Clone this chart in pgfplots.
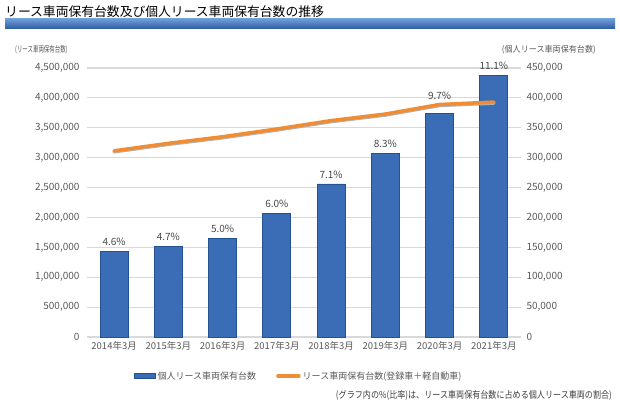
\documentclass[border=0pt]{standalone}
\usepackage{pgfplots}
\pgfplotsset{compat=1.18}
\usepackage{fontspec}
\setmainfont{Noto Sans CJK JP}
\newfontfamily\jpcondA[FakeStretch=0.64]{Noto Sans CJK JP}
\newfontfamily\jpcondB[FakeStretch=0.95]{Noto Sans CJK JP}
\newfontfamily\jpcondC[FakeStretch=0.85]{Noto Sans CJK JP}
\definecolor{txt}{HTML}{595959}
\definecolor{gridc}{HTML}{D9D9D9}
\definecolor{barmid}{HTML}{3A6DB5}
\definecolor{baredge}{HTML}{24518F}
\definecolor{lineor}{HTML}{F08C34}
\definecolor{titlebarTop}{HTML}{6E9BD8}
\definecolor{titlebarBot}{HTML}{2C5BA3}
\begin{document}
\begin{tikzpicture}[x=1pt,y=1pt]
\path (0,0) rectangle (620,405);
% title
\node[anchor=west, inner sep=0pt, font=\fontsize{12.8}{14}\selectfont, text=black] at (5,393) {リース車両保有台数及び個人リース車両保有台数の推移};
\shade[top color=titlebarTop, bottom color=titlebarBot] (5,376) rectangle (615,386);
% axis captions
\node[anchor=west, inner sep=0pt, font=\jpcondA\fontsize{8.5}{9}\selectfont, text=txt] at (15,355) {(リース車両保有台数)};
\node[anchor=east, inner sep=0pt, font=\jpcondB\fontsize{8.5}{9}\selectfont, text=txt] at (596,355) {(個人リース車両保有台数)};
% bars (right axis)
\begin{axis}[
  at={(87pt,68pt)}, anchor=south west, scale only axis,
  width=434pt, height=269pt,
  xmin=-0.5, xmax=7.5, ymin=0, ymax=450000,
  axis y line*=right, axis x line*=bottom,
  axis line style={draw=none},
  x axis line style={draw=gridc, line width=1.2pt},
  major tick length=0pt,
  ytick={0,50000,...,450000},
  ymajorgrids, grid style={draw=gridc, line width=1.2pt},
  scaled ticks=false,
  /pgf/number format/.cd, fixed, 1000 sep={,}, assume math mode=true,
  /pgfplots/.cd,
  yticklabel style={font=\fontsize{10}{12}\selectfont, text=txt, xshift=2pt},
  xtick={0,...,7},
  xticklabels={2014年3月,2015年3月,2016年3月,2017年3月,2018年3月,2019年3月,2020年3月,2021年3月},
  xticklabel style={font=\fontsize{9.5}{11}\selectfont, text=txt, yshift=-1pt},
  ybar, bar width=28pt,
  nodes near coords={\ifnum\coordindex=6 \raisebox{8pt}{\pgfplotspointmeta}\else\pgfplotspointmeta\fi},
  point meta=explicit symbolic,
  nodes near coords style={font=\fontsize{10}{12}\selectfont, text=txt!80!black, anchor=south, yshift=2pt},
]
\addplot[draw=baredge, line width=0.8pt, fill=barmid]
coordinates {(0,143000)[4.6\%] (1,152000)[4.7\%] (2,165000)[5.0\%] (3,207000)[6.0\%] (4,256000)[7.1\%] (5,307000)[8.3\%] (6,374000)[9.7\%] (7,437000)[11.1\%]};
\end{axis}
% line (left axis)
\begin{axis}[
  at={(87pt,68pt)}, anchor=south west, scale only axis,
  width=434pt, height=269pt, clip=false,
  xmin=-0.5, xmax=7.5, ymin=0, ymax=4500000,
  axis y line*=left, axis x line=none,
  axis line style={draw=none},
  major tick length=0pt,
  ytick={0,500000,...,4500000},
  scaled ticks=false,
  /pgf/number format/.cd, fixed, 1000 sep={,}, assume math mode=true,
  /pgfplots/.cd,
  yticklabel style={font=\fontsize{10}{12}\selectfont, text=txt, xshift=-4pt},
  xtick=\empty,
  legend columns=2,
  legend style={draw=none, fill=none, at={(0.488,-0.145)}, anchor=center,
    font=\fontsize{9}{11}\selectfont, text=txt,
    /tikz/every even column/.append style={column sep=18pt}},
]
\addlegendimage{legend image code/.code={\fill[baredge] (0pt,-2.5pt) rectangle (21pt,2.5pt); \fill[barmid] (1pt,-1pt) rectangle (20pt,1.5pt);}}
\addlegendentry{個人リース車両保有台数}
\addplot[draw=black!30, line width=3.5pt, line join=round, line cap=round, forget plot, transform canvas={yshift=-1pt}]
coordinates {(0,3115000) (1,3240000) (2,3350000) (3,3480000) (4,3620000) (5,3730000) (6,3890000) (7,3930000)};
\addplot[draw=lineor, line width=3.5pt, line join=round, line cap=round,
  legend image code/.code={\draw[lineor, line width=3.5pt] (0pt,0pt) -- (21pt,0pt);}]
coordinates {(0,3115000) (1,3240000) (2,3350000) (3,3480000) (4,3620000) (5,3730000) (6,3890000) (7,3930000)};
\addlegendentry{リース車両保有台数(登録車＋軽自動車)}
\node[anchor=east, inner sep=0pt, font=\jpcondC\fontsize{9.5}{10}\selectfont, text=txt!70!black] at (rel axis cs:1.21,-0.2156) {(グラフ内の\%(比率)は、リース車両保有台数に占める個人リース車両の割合)};
\end{axis}
\end{tikzpicture}
\end{document}
